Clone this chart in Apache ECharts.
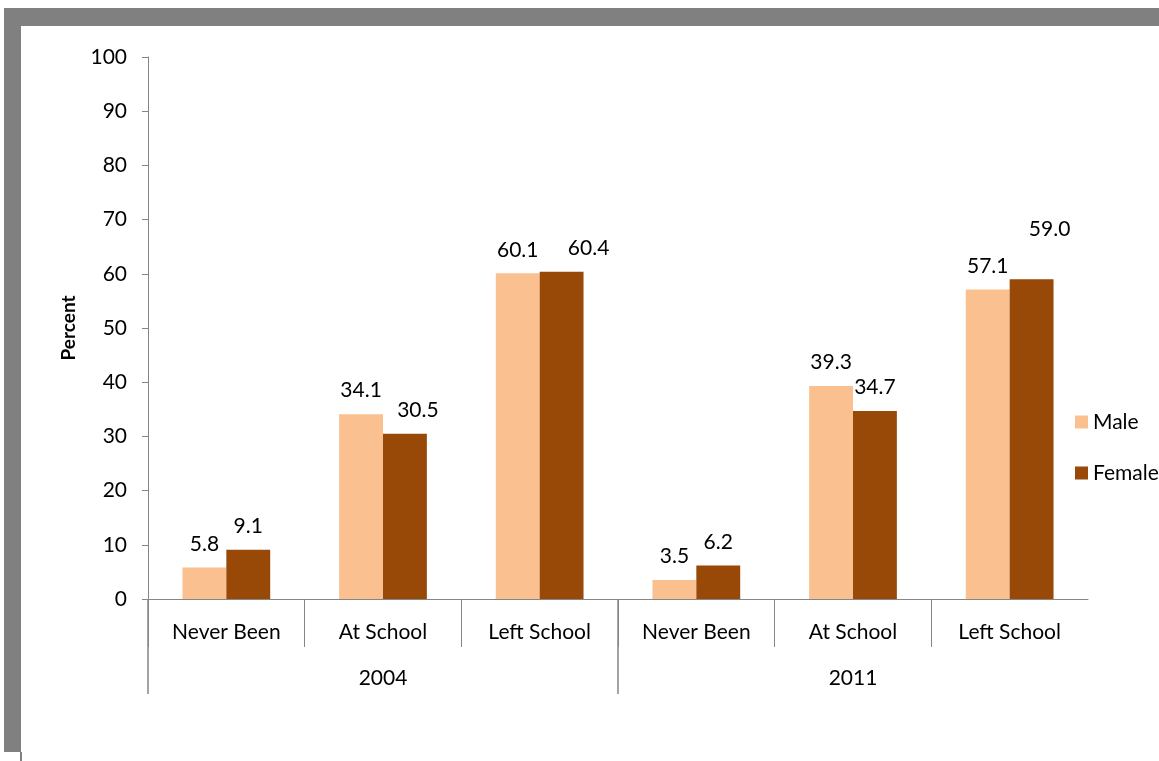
<!DOCTYPE html>
<html>
<head>
<meta charset="utf-8">
<title>Schooling status by sex</title>
<script src="https://cdn.jsdelivr.net/npm/echarts@6/dist/echarts.min.js"></script>
<style>
  html, body { margin: 0; padding: 0; background: #fff; }
  #chart { width: 1159px; height: 761px; }
</style>
</head>
<body>
<div id="chart"></div>
<script>
// -- data --
const categories = ['Never Been', 'At School', 'Left School', 'Never Been', 'At School', 'Left School'];
const years = ['2004', '2011'];
const male = [5.8, 34.1, 60.1, 3.5, 39.3, 57.1];
const female = [9.1, 30.5, 60.4, 6.2, 34.7, 59.0];
const yTicks = [0, 10, 20, 30, 40, 50, 60, 70, 80, 90, 100];

// label nudges copied from the original (index -> [dx, dy])
const femaleLabelShift = {1: [13, 0], 2: [27, 0], 5: [18, -26]};

const FONT = 'Lato';
const AXIS_GREY = '#868686';

let toItems = function (values, shift) {
  return values.map(function (v, i) {
    let item = {value: v};
    if (shift && shift[i]) {
      item.label = {offset: shift[i]};
    }
    return item;
  });
};

let barLabel = {
  show: true,
  position: 'top',
  distance: 13,
  fontFamily: FONT,
  fontSize: 21,
  color: '#000',
  formatter: function (p) { return p.value.toFixed(1); }
};

let option = {
  animation: false,
  backgroundColor: '#fff',
  textStyle: {fontFamily: FONT},
  graphic: [
    {type: 'rect', shape: {x: 4, y: 8, width: 1155, height: 18}, style: {fill: '#808080'}},
    {type: 'rect', shape: {x: 4, y: 8, width: 17, height: 744}, style: {fill: '#808080'}},
    {type: 'rect', shape: {x: 20, y: 752, width: 2, height: 9}, style: {fill: '#808080'}}
  ],
  grid: {left: 148, right: 71, top: 57, bottom: 162},
  legend: {
    orient: 'vertical',
    left: 1070,
    top: 405,
    icon: 'rect',
    itemWidth: 13,
    itemHeight: 13,
    itemGap: 27,
    textStyle: {fontFamily: FONT, fontSize: 21, color: '#000', lineHeight: 24}
  },
  yAxis: {
    type: 'value',
    min: 0,
    max: 100,
    interval: 10,
    name: 'Percent',
    nameLocation: 'middle',
    nameGap: 70,
    nameRotate: 90,
    nameTextStyle: {fontFamily: FONT, fontSize: 19, fontWeight: 'bold', color: '#000'},
    axisLine: {show: true, lineStyle: {color: AXIS_GREY, width: 1}},
    axisTick: {show: true, length: 6, lineStyle: {color: AXIS_GREY}},
    axisLabel: {
      margin: 21,
      fontFamily: FONT,
      fontSize: 21,
      color: '#000',
      customValues: yTicks
    },
    splitLine: {show: false}
  },
  xAxis: [
    // category labels, bars sit on this one
    {
      type: 'category',
      data: categories,
      position: 'bottom',
      axisLine: {show: true, lineStyle: {color: AXIS_GREY, width: 1}},
      axisTick: {show: false},
      axisLabel: {
        interval: 0,
        margin: 33,
        verticalAlign: 'middle',
        fontFamily: FONT,
        fontSize: 21,
        color: '#000'
      }
    },
    // year labels
    {
      type: 'category',
      data: years,
      position: 'bottom',
      axisLine: {show: false},
      axisTick: {show: false},
      axisLabel: {
        interval: 0,
        margin: 79,
        verticalAlign: 'middle',
        fontFamily: FONT,
        fontSize: 21,
        color: '#000'
      }
    },
    // short dividers between categories (no tick at the right end)
    {
      type: 'category',
      data: ['0', '1', '2', '3', '4', '5', '6'],
      boundaryGap: false,
      position: 'bottom',
      axisLine: {show: false},
      axisLabel: {show: false},
      axisTick: {
        show: true,
        length: 48,
        interval: function (i) { return i < 6; },
        lineStyle: {color: AXIS_GREY, width: 1}
      }
    },
    // long dividers between years
    {
      type: 'category',
      data: ['0', '1', '2'],
      boundaryGap: false,
      position: 'bottom',
      axisLine: {show: false},
      axisLabel: {show: false},
      axisTick: {
        show: true,
        length: 95,
        interval: function (i) { return i < 2; },
        lineStyle: {color: AXIS_GREY, width: 1.5}
      }
    }
  ],
  series: [
    {
      name: 'Male',
      type: 'bar',
      xAxisIndex: 0,
      data: toItems(male),
      barGap: '0%',
      barCategoryGap: '44%',
      itemStyle: {color: '#FAC090'},
      label: barLabel
    },
    {
      name: 'Female',
      type: 'bar',
      xAxisIndex: 0,
      data: toItems(female, femaleLabelShift),
      barGap: '0%',
      barCategoryGap: '44%',
      itemStyle: {color: '#984807'},
      label: barLabel
    }
  ]
};

let myChart = echarts.init(document.getElementById('chart'));
myChart.setOption(option);
</script>
</body>
</html>
